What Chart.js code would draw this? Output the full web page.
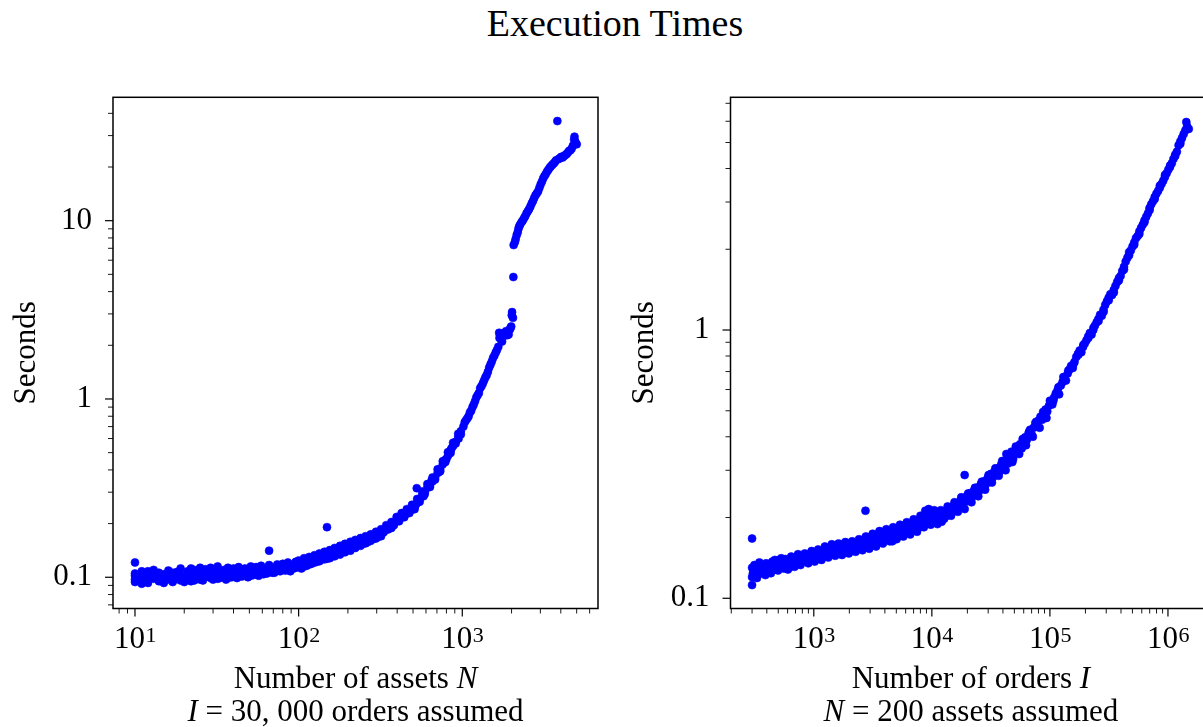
<!DOCTYPE html>
<html>
<head>
<meta charset="utf-8">
<script src="https://cdn.jsdelivr.net/npm/chart.js@4.4.0/dist/chart.umd.min.js"></script>
<style>
  html, body { margin: 0; padding: 0; background: #fff; overflow: hidden; width: 1203px; height: 727px; }
  #title { position: absolute; left: 0; top: 4px; width: 1230px; text-align: center;
           font: 38px 'Liberation Serif', 'Times New Roman', serif; line-height: 38px; color: #000; }
  canvas { position: absolute; top: 0; }
</style>
</head>
<body>
<div id="title">Execution Times</div>
<canvas id="assets" width="610" height="727" style="left:0"></canvas>
<canvas id="orders" width="606" height="727" style="left:610px"></canvas>
<script>
// left panel: number of assets N vs seconds
const assetsN = [
  10,10,10,10,11,11,11,12,12,12,13,13,14,14,15,15,16,16,17,17,
  18,19,19,20,21,21,22,23,23,24,25,26,27,28,29,30,31,32,33,35,
  36,37,39,40,42,43,45,47,49,51,53,55,57,59,61,64,66,66,69,71,
  74,77,80,83,86,89,93,96,100,104,108,112,116,120,125,129,134,139,144,149,
  149,155,160,166,172,179,185,192,199,207,214,222,230,239,248,257,266,276,286,297,
  308,319,320,331,343,350,356,369,382,397,400,411,426,442,450,458,475,493,511,520,
  527,530,549,569,580,590,612,635,650,658,682,707,720,733,760,788,800,817,848,860,
  879,911,945,950,980,1016,1054,1093,1133,1175,1218,1263,1310,1358,1408,1460,1514,1570,1628,1688,
  1700,1750,1815,1882,1951,1990,2006,2015,2052,2060,2098,2150,2204,2255,2338,2424,2514,2607,2703,2802,
  2906,3013,3124,3239,3359,3483,3611,3744,3810,3883,4026,4174,4328,4488,4654,4825,4900,5000,
  10,11,12,13,14,15,16,17,18,19,20,21,22,23,24,25,26,27,28,29,
  30,31,32,33,35,36,37,39,40,42,43,45,47,49,51,53,55,57,59,61,
  64,66,69,71,74,77,80,83,86,89,93,96,100,104,108,112,116,120,125,129,
  134,139,144,149,155,160,166,172,179,185,192,199,207,214,222,230,239,248,257,266,
  276,286,297,308,319,331,343,356,369,382,397,411,426,442,458,475,493,511,530,549,
  569,590,612,635,658,682,707,733,760,788,817,848,879,911,945,980,1035,1075,1113,1155,
  1196,1240,1286,1334,1383,1434,1487,1542,1600,1660,1680,1720,1780,1850,1920,1970,2040,2120,2180,2230,
  2300,2380,2470,2560,2655,2750,2850,2960,3070,3180,3300,3420,3550,3680,3950,4100,4250,4400,4570,4740,4960,4850
];
const assetsSec = [
  0.102,0.121,0.097,0.105,0.099,0.092,0.104,0.101,0.096,0.108,0.098,0.103,0.100,0.095,0.104,0.099,0.102,0.097,0.106,0.100,
  0.098,0.103,0.096,0.101,0.108,0.099,0.095,0.104,0.110,0.100,0.097,0.103,0.111,0.101,0.099,0.105,0.100,0.098,0.106,0.102,
  0.104,0.099,0.107,0.103,0.108,0.101,0.106,0.104,0.110,0.102,0.109,0.105,0.111,0.107,0.104,0.112,0.141,0.108,0.106,0.113,
  0.109,0.115,0.110,0.117,0.112,0.114,0.118,0.113,0.116,0.120,0.115,0.122,0.118,0.126,0.121,0.128,0.123,0.131,0.126,0.191,
  0.133,0.128,0.136,0.131,0.140,0.134,0.143,0.138,0.147,0.141,0.150,0.146,0.155,0.150,0.159,0.155,0.163,0.160,0.168,0.165,
  0.174,0.170,0.178,0.182,0.186,0.185,0.192,0.189,0.200,0.207,0.215,0.212,0.218,0.222,0.230,0.228,0.234,0.240,0.248,0.255,
  0.316,0.262,0.275,0.288,0.285,0.300,0.318,0.330,0.350,0.345,0.362,0.385,0.390,0.405,0.430,0.455,0.460,0.480,0.515,0.530,
  0.545,0.575,0.615,0.600,0.660,0.700,0.760,0.800,0.860,0.930,1.02,1.08,1.18,1.27,1.36,1.50,1.62,1.75,1.88,2.20,
  2.28,2.10,2.35,2.28,2.45,2.55,2.95,3.07,4.83,7.30,7.60,8.30,9.00,9.50,10.0,10.6,11.3,12.0,12.9,13.9,
  14.6,16.0,17.3,18.3,19.3,20.2,20.9,21.8,36.2,22.2,22.8,23.0,23.6,24.6,25.3,28.5,27.8,26.8,
  0.094,0.108,0.093,0.110,0.106,0.093,0.109,0.094,0.107,0.112,0.094,0.104,0.112,0.096,0.108,0.113,0.096,0.104,0.109,0.113,
  0.097,0.110,0.115,0.099,0.110,0.097,0.113,0.100,0.112,0.099,0.114,0.101,0.112,0.100,0.115,0.103,0.114,0.102,0.116,0.111,
  0.105,0.117,0.112,0.106,0.118,0.108,0.119,0.109,0.121,0.108,0.112,0.122,0.124,0.112,0.128,0.116,0.130,0.119,0.133,0.122,
  0.136,0.126,0.139,0.127,0.142,0.131,0.146,0.135,0.150,0.139,0.154,0.143,0.158,0.147,0.162,0.151,0.166,0.154,0.170,0.158,
  0.174,0.164,0.180,0.169,0.186,0.179,0.196,0.187,0.204,0.196,0.218,0.206,0.229,0.217,0.241,0.229,0.255,0.241,0.275,0.265,
  0.303,0.293,0.333,0.321,0.363,0.353,0.403,0.393,0.448,0.443,0.503,0.498,0.568,0.563,0.638,0.633,0.740,0.780,0.840,0.900,
  0.970,1.05,1.15,1.22,1.32,1.42,1.56,1.70,1.82,1.96,2.35,2.16,2.25,2.40,2.30,2.50,2.85,7.90,8.60,9.30,
  9.80,10.3,11.0,11.6,12.5,13.4,14.2,15.3,16.6,17.8,18.9,19.8,20.6,21.3,22.4,22.6,23.3,24.0,24.8,26.3,27.0,29.6
];

// right panel: number of orders I vs seconds
const ordersI = [
  300,300,305,310,318,326,334,342,350,360,372,383,395,408,420,433,446,460,475,490,
  506,522,540,557,575,594,613,634,655,677,700,723,747,772,798,825,853,882,912,943,975,1000,
  1035,1070,1106,1143,1182,1222,1263,1306,1350,1396,1443,1492,1542,1594,1648,1704,1762,1821,1883,1946,
  2012,2080,2150,2223,2298,2376,2456,2539,2625,2714,2740,2805,2900,2998,3100,3204,3312,3424,3540,3660,
  3784,3912,4044,4180,4322,4468,4619,4775,4937,5103,5276,5455,5639,5830,6027,6230,6441,6659,6884,7117,
  7358,7606,7864,8129,8404,8689,8982,9286,9600,9924,
  10260,10600,10960,11330,11710,12110,12520,12940,13380,13830,14300,14780,15280,15800,16330,16880,17450,18040,18650,18960,
  19280,19930,20600,21300,22020,22760,23530,24320,25140,25990,26870,27780,28720,29690,30690,31730,32800,33900,35050,36230,
  37450,38720,40020,41380,42770,44220,45710,47250,48850,50500,52200,53970,55790,57670,59620,61640,63720,65870,68090,70390,
  72770,75230,77770,80390,83110,85920,88820,91820,94920,98120,
  101400,104900,108400,112100,115900,119800,123800,128000,132400,136800,141500,146300,151200,156300,161600,167100,172700,178600,184600,190800,
  197300,204000,210900,218000,225400,233000,240900,249000,257500,266200,275200,284500,294100,304100,314400,325000,336000,347400,359100,371300,
  383800,396800,410200,424100,438500,453300,468600,484500,500900,517800,535300,553400,572200,591500,611500,632200,653600,675700,698600,722200,
  746600,771900,798000,825000,852900,881800,911600,942400,974300,1007000,1041000,1077000,1113000,1151000,1190000,1230000,1272000,1315000,1359000,1405000,
  1430000,1452000,1500000,
  300,300,314,330,346,366,389,414,440,468,498,530,566,604,644,688,735,785,839,897,
  958,1018,1088,1162,1242,1328,1420,1517,1621,1733,1852,1979,2115,2260,2416,2582,2760,2950,3153,3370,
  3602,3850,4115,4398,4700,5024,5370,5739,6134,6556,7007,7490,8005,8556,8800,9145,9400,9775,10450,11150,
  11900,12720,13600,14540,15540,16610,17750,18970,20280,21670,23160,24750,26450,28270,30210,32290,34510,36880,39420,42130,
  45020,48120,51420,54960,58740,62780,67090,71700,76630,81900,87530,93550,99980,
  107000,118000,130000,143000,158000,174000,192000,212000,234000,258000,285000,315000,348000,384000,424000,469000,518000,572000,632000,699000,
  772000,853000,943000,1042000,1152000,1273000
];
const ordersSec = [
  0.112,0.167,0.124,0.128,0.121,0.126,0.131,0.123,0.127,0.133,0.125,0.129,0.135,0.127,0.131,0.124,0.137,0.130,0.128,0.134,
  0.139,0.131,0.135,0.129,0.140,0.133,0.137,0.131,0.138,0.135,0.142,0.136,0.140,0.133,0.139,0.143,0.137,0.141,0.145,0.139,0.146,0.142,
  0.148,0.140,0.145,0.150,0.143,0.147,0.152,0.146,0.150,0.155,0.148,0.152,0.146,0.154,0.149,0.156,0.151,0.148,0.155,0.152,
  0.157,0.150,0.154,0.158,0.152,0.156,0.161,0.154,0.158,0.165,0.212,0.157,0.162,0.169,0.158,0.165,0.172,0.161,0.168,0.175,
  0.164,0.170,0.166,0.173,0.168,0.176,0.163,0.171,0.179,0.169,0.175,0.182,0.172,0.178,0.186,0.176,0.183,0.179,0.188,0.180,
  0.186,0.193,0.184,0.190,0.198,0.188,0.205,0.196,0.210,0.199,
  0.205,0.192,0.200,0.197,0.203,0.193,0.207,0.201,0.212,0.205,0.216,0.209,0.221,0.213,0.226,0.218,0.231,0.222,0.236,0.288,
  0.229,0.241,0.234,0.247,0.239,0.252,0.245,0.259,0.251,0.266,0.258,0.273,0.266,0.281,0.272,0.291,0.282,0.296,0.290,0.305,
  0.297,0.316,0.307,0.325,0.345,0.318,0.336,0.352,0.331,0.347,0.366,0.358,0.375,0.362,0.384,0.398,0.389,0.412,0.425,0.406,
  0.432,0.450,0.438,0.460,0.475,0.463,0.488,0.505,0.497,0.522,
  0.540,0.528,0.560,0.580,0.595,0.576,0.621,0.640,0.662,0.648,0.689,0.712,0.735,0.722,0.760,0.793,0.815,0.838,0.826,0.865,
  0.890,0.915,0.946,0.975,0.962,1.000,1.04,1.07,1.10,1.14,1.13,1.19,1.24,1.28,1.32,1.36,1.35,1.41,1.46,1.51,
  1.56,1.59,1.66,1.72,1.80,1.86,1.90,1.98,2.05,2.12,2.20,2.24,2.33,2.40,2.47,2.56,2.64,2.72,2.85,2.94,
  3.02,3.13,3.22,3.30,3.39,3.50,3.60,3.72,3.84,3.96,4.05,4.18,4.34,4.45,4.62,4.88,5.04,5.20,5.38,5.55,
  5.96,5.75,5.62,
  0.120,0.130,0.133,0.119,0.136,0.130,0.122,0.134,0.129,0.139,0.127,0.141,0.134,0.128,0.143,0.131,0.146,0.138,0.147,0.135,
  0.150,0.137,0.152,0.139,0.156,0.142,0.159,0.144,0.160,0.145,0.162,0.147,0.163,0.149,0.166,0.151,0.170,0.153,0.174,0.156,
  0.178,0.160,0.181,0.163,0.184,0.166,0.188,0.170,0.192,0.173,0.197,0.177,0.203,0.184,0.212,0.190,0.215,0.188,0.213,0.189,
  0.213,0.198,0.220,0.203,0.228,0.210,0.238,0.215,0.246,0.228,0.258,0.240,0.272,0.254,0.288,0.270,0.305,0.286,0.325,0.300,
  0.345,0.322,0.368,0.345,0.392,0.372,0.420,0.400,0.455,0.432,0.495,0.470,0.545,
  0.545,0.612,0.668,0.705,0.745,0.808,0.880,0.935,1.02,1.08,1.17,1.29,1.38,1.53,1.68,1.95,2.08,2.28,2.52,2.80,
  3.08,3.45,3.78,4.10,4.50,4.95
];

// tick labels: base and exponent for the x axes, plain text for the y axes
const assetsXLabels = { 10: ['10', '1'], 100: ['10', '2'], 1000: ['10', '3'] };
const ordersXLabels = { 1000: ['10', '3'], 10000: ['10', '4'], 100000: ['10', '5'], 1000000: ['10', '6'] };
const assetsYLabels = { 0.1: '0.1', 1: '1', 10: '10' };
const ordersYLabels = { 0.1: '0.1', 1: '1' };

const SERIF = "'Liberation Serif', 'Times New Roman', serif";
Chart.defaults.font.family = SERIF;
Chart.defaults.color = '#000';

// 1..9 x 10^k inside [min, max]
function logTicks(min, max) {
  const out = [];
  for (let e = Math.floor(Math.log10(min)); e <= Math.ceil(Math.log10(max)); e++) {
    for (let m = 1; m < 10; m++) {
      const v = m * Math.pow(10, e);
      if (v >= min && v <= max) out.push({ value: v, major: m === 1 });
    }
  }
  return out;
}

// box, outward ticks (long major / short minor), 10^k labels, two-line x caption with italics
const frame = {
  id: 'frame',
  afterDatasetsDraw(chart, args, opts) {
    const { ctx, chartArea: a, scales } = chart;
    ctx.save();
    ctx.strokeStyle = '#000';
    ctx.fillStyle = '#000';
    scales.x.ticks.forEach(t => {
      const p = scales.x.getPixelForValue(t.value);
      ctx.lineWidth = t.major ? 1.2 : 0.9;
      ctx.beginPath();
      ctx.moveTo(p, a.bottom);
      ctx.lineTo(p, a.bottom + (t.major ? 8 : 5));
      ctx.stroke();
      const lab = opts.xLabels[t.value];
      if (lab) {
        ctx.textBaseline = 'alphabetic';
        ctx.textAlign = 'left';
        ctx.font = '31px ' + SERIF;
        const wb = ctx.measureText(lab[0]).width;
        ctx.font = '22px ' + SERIF;
        const we = ctx.measureText(lab[1]).width;
        const x0 = p - (wb + we) / 2;
        ctx.font = '31px ' + SERIF;
        ctx.fillText(lab[0], x0, a.bottom + 39.5);
        ctx.font = '22px ' + SERIF;
        ctx.fillText(lab[1], x0 + wb + 0.5, a.bottom + 33);
      }
    });
    scales.y.ticks.forEach(t => {
      const p = scales.y.getPixelForValue(t.value);
      ctx.lineWidth = t.major ? 1.2 : 0.9;
      ctx.beginPath();
      ctx.moveTo(a.left, p);
      ctx.lineTo(a.left - (t.major ? 8 : 5), p);
      ctx.stroke();
    });
    ctx.lineWidth = 1.5;
    ctx.strokeRect(a.left, a.top, a.right - a.left, a.bottom - a.top);

    ctx.textBaseline = 'alphabetic';
    ctx.textAlign = 'left';
    const cx = (a.left + a.right) / 2;
    opts.lines.forEach((segs, i) => {
      const fontOf = s => (s[1] ? 'italic ' : '') + '31px ' + SERIF;
      let w = 0;
      segs.forEach(s => { ctx.font = fontOf(s); w += ctx.measureText(s[0]).width; });
      let x = cx - w / 2;
      const y = a.bottom + 79.5 + i * 32.5;
      segs.forEach(s => {
        ctx.font = fontOf(s);
        ctx.fillText(s[0], x, y);
        x += ctx.measureText(s[0]).width;
      });
    });
    ctx.restore();
  }
};

function panel(id, xs, ys, cfg) {
  return new Chart(document.getElementById(id), {
    type: 'scatter',
    data: {
      datasets: [{
        data: xs.map((x, i) => ({ x: x, y: ys[i] })),
        backgroundColor: '#0000ff',
        borderColor: '#0000ff',
        borderWidth: 0.6,
        pointRadius: 4
      }]
    },
    options: {
      responsive: false,
      animation: false,
      events: [],
      layout: { padding: { top: 97.3, right: cfg.padRight, left: 0, bottom: 0 } },
      plugins: {
        legend: { display: false },
        tooltip: { enabled: false },
        frame: { lines: cfg.caption, xLabels: cfg.xLabels }
      },
      scales: {
        x: {
          type: 'logarithmic',
          min: cfg.xMin,
          max: cfg.xMax,
          border: { display: false },
          grid: { drawOnChartArea: false, drawTicks: false },
          ticks: { autoSkip: false, maxRotation: 0, callback: () => '' },
          afterBuildTicks: s => { s.ticks = logTicks(cfg.xMin, cfg.xMax); },
          afterFit: s => { s.height = 118.5; s.paddingLeft = 0; s.paddingRight = 0; }
        },
        y: {
          type: 'logarithmic',
          min: cfg.yMin,
          max: cfg.yMax,
          border: { display: false },
          grid: { drawOnChartArea: false, drawTicks: true, tickLength: 8, tickColor: 'rgba(0,0,0,0)' },
          ticks: {
            autoSkip: false,
            padding: 13,
            font: { size: 31 },
            callback: v => cfg.yLabels[v] || ''
          },
          title: {
            display: true,
            text: 'Seconds',
            font: { size: 31 },
            padding: { top: cfg.yTitlePad, bottom: 0 }
          },
          afterBuildTicks: s => { s.ticks = logTicks(cfg.yMin, cfg.yMax); },
          afterFit: s => { s.width = cfg.yWidth; s.paddingTop = 0; s.paddingBottom = 0; }
        }
      }
    },
    plugins: [frame]
  });
}

panel('assets', assetsN, assetsSec, {
  xMin: 7.34, xMax: 6750, yMin: 0.0668, yMax: 49.2,
  xLabels: assetsXLabels, yLabels: assetsYLabels,
  yWidth: 113, padRight: 12, yTitlePad: 8.4,
  caption: [
    [['Number of assets ', false], ['N', true]],
    [['I', true], [' = 30, 000 orders assumed', false]]
  ]
});

panel('orders', ordersI, ordersSec, {
  xMin: 197, xMax: 2333000, yMin: 0.0916, yMax: 7.37,
  xLabels: ordersXLabels, yLabels: ordersYLabels,
  yWidth: 120.5, padRight: 0.5, yTitlePad: 15.9,
  caption: [
    [['Number of orders ', false], ['I', true]],
    [['N', true], [' = 200 assets assumed', false]]
  ]
});
</script>
</body>
</html>
